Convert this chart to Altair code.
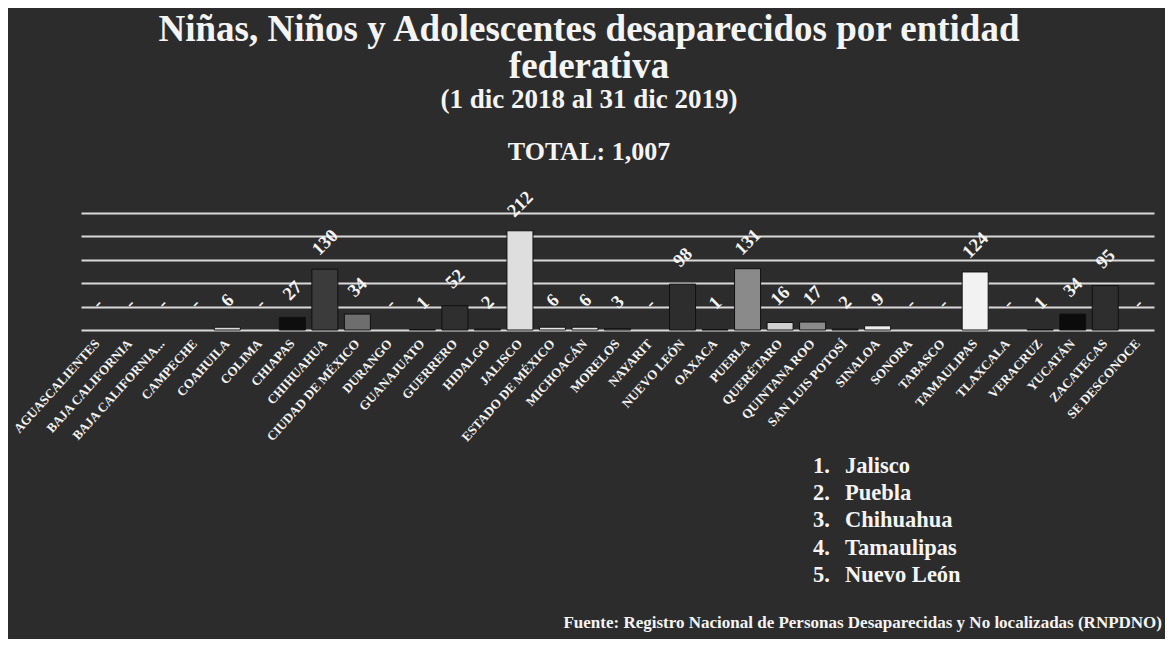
import altair as alt
import pandas as pd

# ---------------- data ----------------
ENTIDADES = [
    "AGUASCALIENTES", "BAJA CALIFORNIA", "BAJA CALIFORNIA...", "CAMPECHE", "COAHUILA",
    "COLIMA", "CHIAPAS", "CHIHUAHUA", "CIUDAD DE MÉXICO", "DURANGO", "GUANAJUATO",
    "GUERRERO", "HIDALGO", "JALISCO", "ESTADO DE MÉXICO", "MICHOACÁN", "MORELOS",
    "NAYARIT", "NUEVO LEÓN", "OAXACA", "PUEBLA", "QUERÉTARO", "QUINTANA ROO",
    "SAN LUIS POTOSÍ", "SINALOA", "SONORA", "TABASCO", "TAMAULIPAS", "TLAXCALA",
    "VERACRUZ", "YUCATÁN", "ZACATECAS", "SE DESCONOCE",
]
CASOS = [0, 0, 0, 0, 6, 0, 27, 130, 34, 0, 1, 52, 2, 212, 6, 6, 3, 0, 98, 1,
         131, 16, 17, 2, 9, 0, 0, 124, 0, 1, 34, 95, 0]
Y_TICKS = [0, 50, 100, 150, 200, 250]

TITLE_1 = "Niñas, Niños y Adolescentes desaparecidos por entidad"
TITLE_2 = "federativa"
SUBTITLE = "(1 dic 2018 al 31 dic 2019)"
TOTAL = "TOTAL: 1,007"
TOP5 = ["Jalisco", "Puebla", "Chihuahua", "Tamaulipas", "Nuevo León"]
FUENTE = "Fuente: Registro Nacional de Personas Desaparecidas y No localizadas (RNPDNO)"

# ---------------- style ----------------
SHADES = [
    "#444444", "#444444", "#444444", "#444444", "#d9d9d9", "#444444", "#0e0e0e",
    "#3b3b3b", "#6e6e6e", "#444444", "#444444", "#2f2f2f", "#333333", "#dedede",
    "#e6e6e6", "#e0e0e0", "#555555", "#444444", "#2d2d2d", "#444444", "#8a8a8a",
    "#cfcfcf", "#8c8c8c", "#333333", "#eeeeee", "#444444", "#444444", "#f2f2f2",
    "#444444", "#444444", "#0b0b0b", "#2e2e2e", "#444444",
]
FONT = "Liberation Serif"
WHITE = "#f4f4f4"
BG = "#2c2c2c"

df = pd.DataFrame({"entidad": ENTIDADES, "casos": CASOS})

x_enc = alt.X(
    "entidad:N", sort=ENTIDADES,
    scale=alt.Scale(paddingInner=0.2, paddingOuter=0.1),
    axis=alt.Axis(title=None, labelAngle=312, labelAlign="right", labelBaseline="middle",
                  labelFont=FONT, labelFontWeight="bold", labelFontSize=13,
                  labelColor=WHITE, labelPadding=11, ticks=False, domain=False,
                  labelLimit=300, labelOverlap=False, grid=False),
)
y_enc = alt.Y(
    "casos:Q", scale=alt.Scale(domain=[0, 250], nice=False),
    axis=alt.Axis(title=None, values=Y_TICKS, labels=False, ticks=False, domain=False,
                  grid=True, gridColor="#d9d9d9", gridWidth=2),
)

bars = alt.Chart(df).mark_bar(stroke="#111111", strokeWidth=1).encode(
    x=x_enc, y=y_enc,
    color=alt.Color("entidad:N", scale=alt.Scale(domain=ENTIDADES, range=SHADES), legend=None),
    strokeOpacity=alt.condition("datum.casos == 0", alt.value(0), alt.value(1)),
    fillOpacity=alt.condition("datum.casos == 0", alt.value(0), alt.value(1)),
)

labels = alt.Chart(df).transform_calculate(
    lbl="datum.casos == 0 ? '-' : format(datum.casos, 'd')"
).mark_text(
    angle=315, align="center", baseline="middle", dx=19, dy=-19,
    font=FONT, fontWeight="bold", fontSize=18.5, color=WHITE,
).encode(x=x_enc, y=y_enc, text="lbl:N")


def note(text, x, y, size, align="center", line_height=None):
    kw = dict(align=align, baseline="alphabetic", font=FONT, fontWeight="bold",
              fontSize=size, color=WHITE)
    if line_height is not None:
        kw["lineBreak"] = "\n"
        kw["lineHeight"] = line_height
    return alt.Chart(pd.DataFrame({"t": [text]})).mark_text(**kw).encode(
        text="t:N", x=alt.value(x), y=alt.value(y))


ranks = "\n".join(f"{i + 1}." for i in range(len(TOP5)))
names = "\n".join(TOP5)

chart = alt.layer(
    bars, labels,
    note(TITLE_1, 508, -172, 37),
    note(TITLE_2, 508, -135, 37),
    note(SUBTITLE, 508, -105, 27),
    note(TOTAL, 508, -53, 26),
    note(ranks, 732, 260, 22.5, align="left", line_height=27.2),
    note(names, 764, 260, 22.5, align="left", line_height=27.2),
    note(FUENTE, 1081, 415, 17, align="right"),
).properties(
    width=1073, height=117,
    autosize=alt.AutoSizeParams(type="none"),
    padding={"left": 73, "top": 205, "right": 11, "bottom": 309},
    background=BG,
).configure_view(stroke=None)

chart.save("out.html", embed_options={"renderer": "svg", "actions": False})
